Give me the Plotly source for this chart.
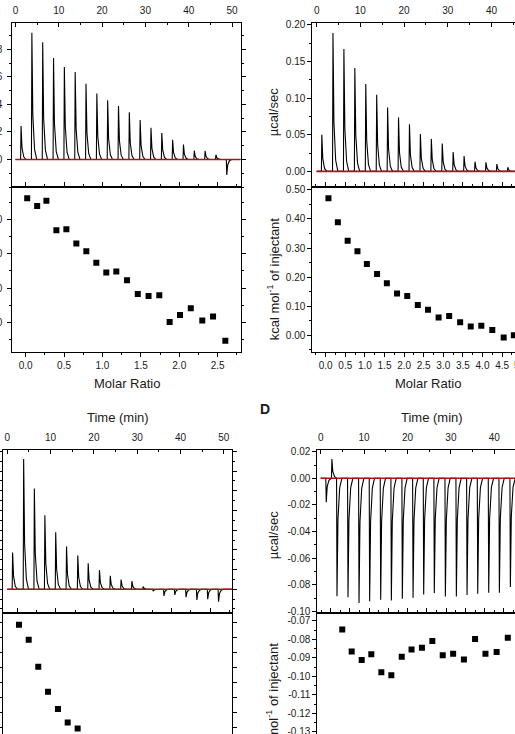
import plotly.graph_objects as go

# ---------------- data ----------------
# Panel A
A_inj_time = [1.2, 3.7, 6.2, 8.7, 11.2, 13.7, 16.2, 18.7, 21.2, 23.7, 26.2, 28.7, 31.2, 33.7, 36.2, 38.7, 41.2, 43.7, 46.2, 48.7]
A_peak = [0.0243, 0.0922, 0.0852, 0.0738, 0.0673, 0.0636, 0.0551, 0.0479, 0.0430, 0.0389, 0.0343, 0.0287, 0.0231, 0.0193, 0.0144, 0.0108, 0.0064, 0.0062, 0.0035, -0.0113]
A_ratio = [0.02, 0.15, 0.27, 0.40, 0.53, 0.66, 0.79, 0.92, 1.05, 1.18, 1.32, 1.46, 1.60, 1.74, 1.875, 2.01, 2.15, 2.30, 2.44, 2.60]
A_heat = [0.461, 0.439, 0.454, 0.368, 0.371, 0.330, 0.307, 0.274, 0.245, 0.248, 0.223, 0.183, 0.177, 0.179, 0.101, 0.122, 0.141, 0.106, 0.117, 0.047]

# Panel B
B_inj_time = [1.1, 3.65, 6.15, 8.65, 11.15, 13.65, 16.15, 18.65, 21.15, 23.65, 26.15, 28.65, 31.15, 33.65, 36.15, 38.65, 41.15, 43.65]
B_peak = [0.0498, 0.189, 0.1671, 0.1411, 0.1192, 0.1046, 0.0872, 0.0735, 0.0644, 0.0511, 0.0443, 0.0379, 0.0265, 0.0210, 0.0132, 0.0123, 0.0100, 0.0055]
B_ratio = [0.07, 0.31, 0.56, 0.81, 1.05, 1.31, 1.56, 1.82, 2.08, 2.35, 2.61, 2.88, 3.15, 3.43, 3.70, 3.97, 4.25, 4.54, 4.80]
B_heat = [0.471, 0.389, 0.325, 0.289, 0.245, 0.211, 0.179, 0.144, 0.135, 0.104, 0.088, 0.061, 0.066, 0.045, 0.030, 0.033, 0.018, -0.008, 0.000]

# Panel C
C_inj_time = [1.15, 3.7, 6.17, 8.6, 11.1, 13.6, 16.2, 18.6, 21.2, 23.7, 26.2, 28.7, 31.3, 33.6, 36.1, 38.6, 41.2, 43.7, 46.2, 48.7]
C_peak = [0.0186, 0.0661, 0.0512, 0.0376, 0.0290, 0.0217, 0.0171, 0.0132, 0.0097, 0.0068, 0.0049, 0.0041, 0.0014, -0.0010, -0.0034, -0.0029, -0.0040, -0.0054, -0.0050, -0.0063]
C_ratio = [0.022, 0.148, 0.272, 0.398, 0.527, 0.653, 0.782, 0.907]
C_heat = [0.492, 0.442, 0.353, 0.270, 0.213, 0.168, 0.148, 0.105]

# Panel D
D_inj_time = [1.2, 2.5, 3.68, 6.21, 8.75, 11.2, 13.74, 16.2, 18.73, 21.2, 23.65, 26.1, 28.65, 31.18, 33.64, 36.1, 38.63, 41.09, 43.62]
D_peak = [-0.018, 0.0145, -0.0886, -0.0894, -0.0937, -0.0924, -0.0914, -0.0919, -0.0906, -0.0899, -0.0873, -0.0863, -0.0889, -0.0889, -0.0878, -0.0868, -0.0861, -0.0861, -0.0818]
D_ratio = [0.30, 0.545, 0.805, 1.055, 1.315, 1.575, 1.845, 2.10, 2.37, 2.64, 2.91, 3.18, 3.46, 3.75, 4.02, 4.31, 4.60]
D_heat = [-0.0747, -0.0866, -0.0912, -0.0880, -0.0978, -0.0994, -0.0894, -0.0855, -0.0846, -0.0809, -0.0886, -0.0878, -0.0909, -0.0798, -0.0878, -0.0869, -0.0791]

# run start / end (min) and fitted baseline level
RUN_START = 0.0
RUN_END = 52.0
BASELINE = 0.0

# tick values / labels
time_ticks = [0, 10, 20, 30, 40, 50]
time_labels = ["0", "10", "20", "30", "40", "50"]
A_up_ticks = [0.0, 0.02, 0.04, 0.06, 0.08, 0.10]
A_up_labels = ["0.00", "0.02", "0.04", "0.06", "0.08", "0.10"]
A_lo_ticks = [0.1, 0.2, 0.3, 0.4]
A_lo_labels = ["0.10", "0.20", "0.30", "0.40"]
A_ratio_ticks = [0.0, 0.5, 1.0, 1.5, 2.0, 2.5]
A_ratio_labels = ["0.0", "0.5", "1.0", "1.5", "2.0", "2.5"]
B_up_ticks = [0.0, 0.05, 0.10, 0.15, 0.20]
B_up_labels = ["0.00", "0.05", "0.10", "0.15", "0.20"]
B_lo_ticks = [0.0, 0.1, 0.2, 0.3, 0.4, 0.5]
B_lo_labels = ["0.00", "0.10", "0.20", "0.30", "0.40", "0.50"]
B_ratio_ticks = [0.0, 0.5, 1.0, 1.5, 2.0, 2.5, 3.0, 3.5, 4.0, 4.5, 5.0]
B_ratio_labels = ["0.0", "0.5", "1.0", "1.5", "2.0", "2.5", "3.0", "3.5", "4.0", "4.5", "5.0"]
C_up_ticks = [0.0, 0.01, 0.02, 0.03, 0.04, 0.05, 0.06, 0.07]
C_up_labels = ["0.00", "0.01", "0.02", "0.03", "0.04", "0.05", "0.06", "0.07"]
C_lo_ticks = [0.15, 0.20, 0.25, 0.30, 0.35, 0.40, 0.45, 0.50]
C_lo_labels = ["0.15", "0.20", "0.25", "0.30", "0.35", "0.40", "0.45", "0.50"]
D_up_ticks = [-0.10, -0.08, -0.06, -0.04, -0.02, 0.0, 0.02]
D_up_labels = ["-0.10", "-0.08", "-0.06", "-0.04", "-0.02", "0.00", "0.02"]
D_lo_ticks = [-0.13, -0.12, -0.11, -0.10, -0.09, -0.08, -0.07]
D_lo_labels = ["-0.13", "-0.12", "-0.11", "-0.10", "-0.09", "-0.08", "-0.07"]

# ---------------- helpers ----------------
# spike template (offset in min, fraction of peak height)
SPIKE_DT = [-0.02, 0.08, 0.3, 0.7, 1.2]
SPIKE_FR = [0.0, 1.0, 0.35, 0.08, 0.0]


def thermogram(times, peaks):
    xs, ys = [RUN_START], [BASELINE]
    for t, h in zip(times, peaks):
        for dt, fr in zip(SPIKE_DT, SPIKE_FR):
            xs.append(t + dt)
            ys.append(BASELINE + fr * h)
    xs.append(RUN_END)
    ys.append(BASELINE)
    return xs, ys


FONT = "Arial, Liberation Sans, Helvetica, sans-serif"
TXT = "#1a1a1a"

fig = go.Figure()


def add_panel(k, times, peaks, ratio, heat):
    tx, ty = thermogram(times, peaks)
    fig.add_trace(go.Scatter(x=tx, y=ty, mode="lines", line=dict(color="black", width=1.1),
                             xaxis=f"x{k}", yaxis=f"y{k}", hoverinfo="skip", showlegend=False))
    fig.add_trace(go.Scatter(x=[RUN_START, RUN_END], y=[BASELINE, BASELINE], mode="lines",
                             line=dict(color="#a8141c", width=1.6),
                             xaxis=f"x{k}", yaxis=f"y{k}", hoverinfo="skip", showlegend=False))
    fig.add_trace(go.Scatter(x=ratio, y=heat, mode="markers",
                             marker=dict(symbol="square", size=6, color="black"),
                             xaxis=f"x{k+1}", yaxis=f"y{k+1}", showlegend=False))


add_panel(1, A_inj_time, A_peak, A_ratio, A_heat)
add_panel(3, B_inj_time, B_peak, B_ratio, B_heat)
add_panel(5, C_inj_time, C_peak, C_ratio, C_heat)
add_panel(7, D_inj_time, D_peak, D_ratio, D_heat)

W, H = 515, 734


def px_x(a, b):
    return [a / W, min(b / W, 1.0)]


def px_y(top, bottom):
    return [max(1 - bottom / H, 0.0), 1 - top / H]


base = dict(showline=True, linecolor="black", linewidth=1, showgrid=False, zeroline=False,
            tickcolor="black", ticklen=4, tickwidth=1, automargin=False, ticklabeloverflow="allow",
            tickfont=dict(family=FONT, size=10, color=TXT), tickmode="array")


def ax(**kw):
    d = dict(base)
    d.update(kw)
    return d


def minor(dt, ticks="outside"):
    return dict(tickmode="linear", tick0=0, dtick=dt, ticklen=2, ticks=ticks, tickcolor="black")


layout = {}
# Panel A
layout["xaxis"] = ax(domain=px_x(12.3, 240.7), range=[-0.74, 52.0], anchor="y", side="top",
                     ticks="inside", mirror=True, tickvals=time_ticks, ticktext=time_labels,
                     minor=minor(5, "inside"), ticklabelstandoff=4)
layout["yaxis"] = ax(domain=px_y(22.5, 187), range=[-0.0200, 0.0996], anchor="x", ticks="outside",
                     mirror="ticks", tickvals=A_up_ticks, ticktext=A_up_labels, minor=minor(0.01),
                     ticklabelstandoff=3)
layout["xaxis2"] = ax(domain=px_x(12.3, 240.7), range=[-0.174, 2.80], anchor="y2", ticks="outside",
                      mirror="ticks", tickvals=A_ratio_ticks, ticktext=A_ratio_labels, minor=minor(0.25))
layout["yaxis2"] = ax(domain=px_y(187, 352), range=[0.014, 0.494], anchor="x2", ticks="outside",
                      mirror="ticks", tickvals=A_lo_ticks, ticktext=A_lo_labels, minor=minor(0.05),
                      ticklabelstandoff=3)
# Panel B
layout["xaxis3"] = ax(domain=px_x(312.3, 515), range=[-1.0, 45.38], anchor="y3", side="top",
                      ticks="inside", mirror=True, tickvals=time_ticks, ticktext=time_labels,
                      minor=minor(5, "inside"), ticklabelstandoff=4)
layout["yaxis3"] = ax(domain=px_y(22.5, 187), range=[-0.0214, 0.2033], anchor="x3", ticks="outside",
                      mirror=False, tickvals=B_up_ticks, ticktext=B_up_labels, minor=minor(0.025))
layout["xaxis4"] = ax(domain=px_x(312.3, 515), range=[-0.342, 4.829], anchor="y4", ticks="outside",
                      mirror="ticks", tickvals=B_ratio_ticks, ticktext=B_ratio_labels, minor=minor(0.25))
layout["yaxis4"] = ax(domain=px_y(187, 352.3), range=[-0.0585, 0.510], anchor="x4", ticks="outside",
                      mirror=False, tickvals=B_lo_ticks, ticktext=B_lo_labels, minor=minor(0.05))
# Panel C
layout["xaxis5"] = ax(domain=px_x(3.3, 232.3), range=[-0.92, 51.96], anchor="y5", side="top",
                      ticks="inside", mirror=True, tickvals=time_ticks, ticktext=time_labels,
                      minor=minor(5, "inside"), ticklabelstandoff=4)
layout["yaxis5"] = ax(domain=px_y(450, 613.3), range=[-0.0122, 0.0707], anchor="x5", ticks="outside",
                      mirror="ticks", tickvals=C_up_ticks, ticktext=C_up_labels, minor=minor(0.005))
layout["xaxis6"] = ax(domain=px_x(3.3, 232.3), range=[-0.181, 2.785], anchor="y6", side="top",
                      ticks="outside", mirror=False, showticklabels=False,
                      tickvals=A_ratio_ticks, ticktext=A_ratio_labels, minor=minor(0.25))
layout["yaxis6"] = ax(domain=px_y(613.3, 734), range=[0.130, 0.5298], anchor="x6", ticks="outside",
                      mirror="ticks", tickvals=C_lo_ticks, ticktext=C_lo_labels)
# Panel D
layout["xaxis7"] = ax(domain=px_x(317.3, 515), range=[-0.78, 44.77], anchor="y7", side="top",
                      ticks="inside", mirror=True, tickvals=time_ticks, ticktext=time_labels,
                      minor=minor(5, "inside"), ticklabelstandoff=4)
layout["yaxis7"] = ax(domain=px_y(450, 613.3), range=[-0.1015, 0.02128], anchor="x7", ticks="outside",
                      mirror=False, tickvals=D_up_ticks, ticktext=D_up_labels, minor=minor(0.01))
layout["xaxis8"] = ax(domain=px_x(317.3, 515), range=[-0.348, 4.787], anchor="y8", side="top",
                      ticks="outside", mirror=False, showticklabels=False,
                      tickvals=B_ratio_ticks, ticktext=B_ratio_labels, minor=minor(0.25))
layout["yaxis8"] = ax(domain=px_y(613.3, 734), range=[-0.1312, -0.0659], anchor="x8", ticks="outside",
                      mirror=False, tickvals=D_lo_ticks, ticktext=D_lo_labels, minor=minor(0.005))


def ann(text, x, y, angle=0, size=13, bold=False):
    return dict(text=f"<b>{text}</b>" if bold else text, x=x / W, y=1 - y / H, xref="paper", yref="paper",
                showarrow=False, textangle=angle, xanchor="center", yanchor="middle",
                font=dict(family=FONT, size=size, color=TXT))


annotations = [
    ann("Molar Ratio", 126.5, 383),
    ann("Molar Ratio", 428.3, 383),
    ann("µcal/sec", 273.3, 112, angle=-90),
    ann("kcal mol<sup>-1</sup> of injectant", 273.3, 279, angle=-90),
    ann("Time (min)", 118, 417.3),
    ann("Time (min)", 431.7, 417.3),
    ann("D", 265, 409.3, size=14, bold=True),
    ann("µcal/sec", 273.3, 535, angle=-90),
    ann("kcal mol<sup>-1</sup> of injectant", 272.5, 704, angle=-90),
    # partially visible last molar-ratio tick label of panel B (its tick lies past the window edge)
    dict(text=B_ratio_labels[-1], x=512 / W, y=1 - 366 / H, xref="paper", yref="paper",
         showarrow=False, xanchor="left", yanchor="middle",
         font=dict(family=FONT, size=10, color=TXT)),
]

fig.update_layout(width=W, height=H, margin=dict(l=0, r=0, t=0, b=0),
                  paper_bgcolor="white", plot_bgcolor="white", showlegend=False,
                  annotations=annotations, **layout)

fig.write_html("out.html")
